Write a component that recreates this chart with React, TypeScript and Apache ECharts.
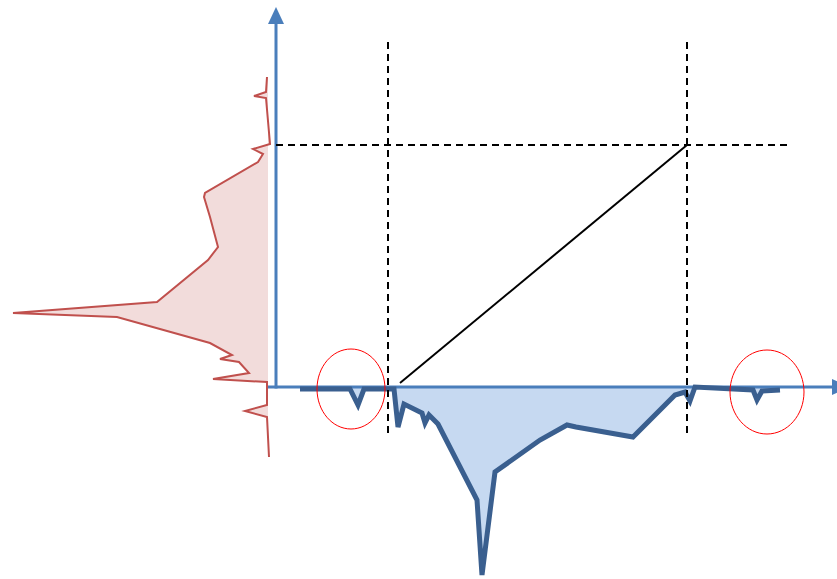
import React, { useEffect, useRef } from "react";
import * as echarts from "echarts";

// Profile drawn below the horizontal axis: [position, depth] pairs (depth negative = below axis)
const blueProfile: [number, number][] = [
  [24, -2], [74, -2], [82, -18], [88, -2], [118, -2], [122, -40], [128, -17],
  [146, -26], [149, -36], [153, -28], [162, -37], [201, -113], [206, -188],
  [219, -85], [264, -53], [291, -38], [300, -40], [357, -50], [399, -8],
  [409, -5], [414, -14], [419, 0], [477, -3], [481, -13], [486, -4], [504, -3],
];

// Profile drawn left of the vertical axis: [position, level] pairs
const redProfile: [number, number][] = [
  [-9, 310], [-10, 295], [-22, 291], [-10, 289], [-6, 243], [-23, 238],
  [-13, 233], [-18, 225], [-71, 194], [-72, 190], [-66, 170], [-58, 140],
  [-68, 127], [-119, 85], [-263, 74], [-159, 70], [-66, 44], [-44, 32],
  [-56, 28], [-37, 25], [-27, 14], [-63, 8], [-9, 5], [-9, -18], [-31, -24],
  [-9, -30], [-7, -70],
];
const redBaseline = -8;

// Guide lines
const guideX = [112, 411];
const guideY = 242;
const guideSpanY: [number, number] = [-48, 345];
const guideSpanX: [number, number] = [0, 512];
const diagonal: [number, number][] = [[124, 4], [411, 242]];

// Highlight ellipses: [cx, cy, rx, ry]
const highlights: [number, number, number, number][] = [
  [75, -2, 34, 40],
  [491, -5, 37, 42],
];

// Axis extents
const xAxisSpan: [number, number] = [-8, 573];
const yAxisSpan: [number, number] = [0, 380];
const arrowLen = 17;
const arrowHalf = 8;

const AXIS_COLOR = "#4A7EBB";

export default function App() {
  const ref = useRef<HTMLDivElement>(null);

  useEffect(() => {
    if (!ref.current) return;
    const chart = echarts.init(ref.current, undefined, { renderer: "svg" });

    const redFill = (_params: any, api: any) => {
      const pts = redProfile.map((p) => api.coord(p));
      const first = redProfile[0];
      const last = redProfile[redProfile.length - 1];
      pts.push(api.coord([redBaseline, last[1]]));
      pts.push(api.coord([redBaseline, first[1]]));
      return {
        type: "polygon",
        shape: { points: pts },
        style: { fill: "#F2DCDB", stroke: "none" },
      };
    };

    const axes = (_params: any, api: any) => {
      const x0 = api.coord([xAxisSpan[0], 0]);
      const x1 = api.coord([xAxisSpan[1], 0]);
      const y0 = api.coord([0, yAxisSpan[0]]);
      const y1 = api.coord([0, yAxisSpan[1]]);
      return {
        type: "group",
        children: [
          {
            type: "line",
            shape: { x1: x0[0], y1: x0[1], x2: x1[0] - arrowLen + 2, y2: x1[1] },
            style: { stroke: AXIS_COLOR, lineWidth: 3 },
          },
          {
            type: "polygon",
            shape: {
              points: [
                [x1[0], x1[1]],
                [x1[0] - arrowLen, x1[1] - arrowHalf],
                [x1[0] - arrowLen, x1[1] + arrowHalf],
              ],
            },
            style: { fill: AXIS_COLOR },
          },
          {
            type: "line",
            shape: { x1: y0[0], y1: y0[1] + 1.5, x2: y1[0], y2: y1[1] + arrowLen - 2 },
            style: { stroke: AXIS_COLOR, lineWidth: 3 },
          },
          {
            type: "polygon",
            shape: {
              points: [
                [y1[0], y1[1]],
                [y1[0] - arrowHalf, y1[1] + arrowLen],
                [y1[0] + arrowHalf, y1[1] + arrowLen],
              ],
            },
            style: { fill: AXIS_COLOR },
          },
        ],
      };
    };

    const overlay = (_params: any, api: any) => {
      const children: any[] = [];
      const dash = { stroke: "#000", lineWidth: 2, lineDash: [7, 5] };
      guideX.forEach((gx) => {
        const a = api.coord([gx, guideSpanY[1]]);
        const b = api.coord([gx, guideSpanY[0]]);
        children.push({ type: "line", shape: { x1: a[0], y1: a[1], x2: b[0], y2: b[1] }, style: dash });
      });
      const h0 = api.coord([guideSpanX[0], guideY]);
      const h1 = api.coord([guideSpanX[1], guideY]);
      children.push({ type: "line", shape: { x1: h0[0], y1: h0[1], x2: h1[0], y2: h1[1] }, style: dash });
      const d0 = api.coord(diagonal[0]);
      const d1 = api.coord(diagonal[1]);
      children.push({
        type: "line",
        shape: { x1: d0[0], y1: d0[1], x2: d1[0], y2: d1[1] },
        style: { stroke: "#000", lineWidth: 2 },
      });
      highlights.forEach(([cx, cy, rx, ry]) => {
        const c = api.coord([cx, cy]);
        const s = api.size([rx, ry]);
        children.push({
          type: "ellipse",
          shape: { cx: c[0], cy: c[1], rx: s[0], ry: s[1] },
          style: { fill: "none", stroke: "#FF0000", lineWidth: 1 },
        });
      });
      return { type: "group", children };
    };

    chart.setOption({
      animation: false,
      backgroundColor: "#ffffff",
      grid: { left: 0, right: 0, top: 0, bottom: 0 },
      xAxis: { type: "value", min: -276, max: 561, show: false },
      yAxis: { type: "value", min: -192, max: 387, show: false },
      series: [
        {
          type: "custom",
          z: 1,
          silent: true,
          clip: false,
          data: [[0, 0]],
          renderItem: redFill,
        },
        {
          type: "line",
          z: 2,
          silent: true,
          symbol: "none",
          data: redProfile,
          lineStyle: { color: "#C0504D", width: 2, join: "miter" },
        },
        {
          type: "line",
          z: 2,
          silent: true,
          symbol: "none",
          data: blueProfile,
          lineStyle: { width: 0, opacity: 0 },
          areaStyle: { color: "#C6D9F1", opacity: 1, origin: 0 },
        },
        {
          type: "custom",
          z: 3,
          silent: true,
          clip: false,
          data: [[0, 0]],
          renderItem: axes,
        },
        {
          type: "line",
          z: 4,
          silent: true,
          symbol: "none",
          data: blueProfile,
          lineStyle: { color: "#3A5F8F", width: 5, join: "miter" },
        },
        {
          type: "custom",
          z: 5,
          silent: true,
          clip: false,
          data: [[0, 0]],
          renderItem: overlay,
        },
      ],
    });

    return () => chart.dispose();
  }, []);

  return (
    <div
      ref={ref}
      style={{ position: "fixed", left: 0, top: 0, width: 837, height: 579, background: "#fff" }}
    />
  );
}
